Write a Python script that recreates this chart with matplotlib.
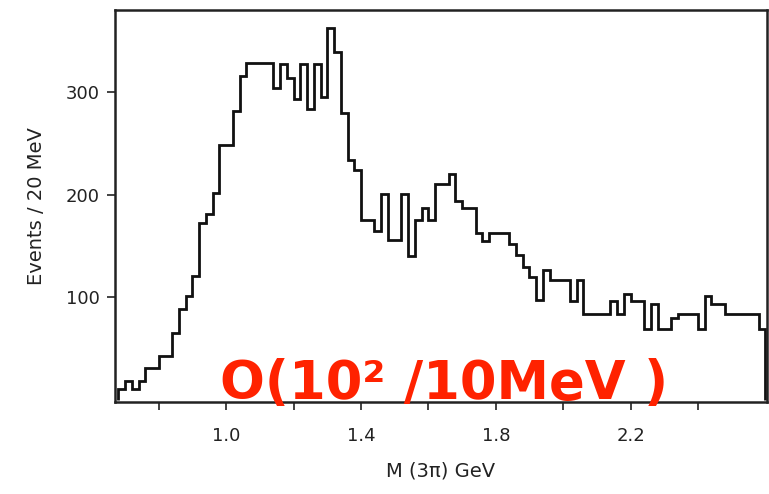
import numpy as np
import matplotlib
matplotlib.use("Agg")
import matplotlib.pyplot as plt

# 3-pion invariant mass spectrum, 20 MeV bins starting at 0.68 GeV
bin_start = 0.68
bin_width = 0.02
counts = [
    11, 19, 11, 19, 31, 31, 43, 43, 65, 89,
    101, 121, 172, 181, 202, 248, 248, 282, 316, 328,
    328, 328, 328, 304, 327, 314, 293, 327, 283, 327,
    295, 362, 339, 280, 234, 224, 175, 175, 165, 201,
    156, 156, 201, 140, 175, 187, 175, 210, 210, 220,
    194, 187, 187, 163, 155, 163, 163, 163, 152, 141,
    130, 120, 97, 127, 117, 117, 117, 96, 117, 84,
    84, 84, 84, 96, 84, 103, 96, 96, 69, 94,
    69, 69, 80, 84, 84, 84, 69, 101, 94, 94,
    84, 84, 84, 84, 84, 69,
]
x_ticks = [0.8, 1.0, 1.2, 1.4, 1.6, 1.8, 2.0, 2.2, 2.4]
x_ticklabels = ["", "1.0", "", "1.4", "", "1.8", "", "2.2", ""]
y_ticks = [100, 200, 300]
overlay_text = "O(10² /10MeV )"

edges = bin_start + bin_width * np.arange(len(counts) + 1)

fig = plt.figure(figsize=(7.69, 4.94), dpi=100)
ax = fig.add_axes([0.1495, 0.186, 0.848, 0.794])

ax.stairs(counts, edges, baseline=0, color="#111111", linewidth=2.0)

ax.set_xlim(0.67, 2.605)
ax.set_ylim(-2, 380)

ax.set_xticks(x_ticks)
ax.set_xticklabels(x_ticklabels)
ax.set_yticks(y_ticks)
ax.tick_params(axis="both", direction="out", length=6, width=1.2,
               labelsize=13, colors="#222222")
ax.tick_params(axis="x", pad=12)
ax.tick_params(axis="y", pad=5)

for s in ax.spines.values():
    s.set_linewidth(1.8)
    s.set_color("#222222")

ax.set_ylabel("Events / 20 MeV", fontsize=14, color="#222222", labelpad=14)
ax.set_xlabel("M (3π) GeV", fontsize=14, color="#222222", labelpad=12)

fig.text(0.577, 0.222, overlay_text, color="#ff2200", fontsize=38,
         fontweight="bold", ha="center", va="center")

fig.savefig("out.png", dpi=100)
